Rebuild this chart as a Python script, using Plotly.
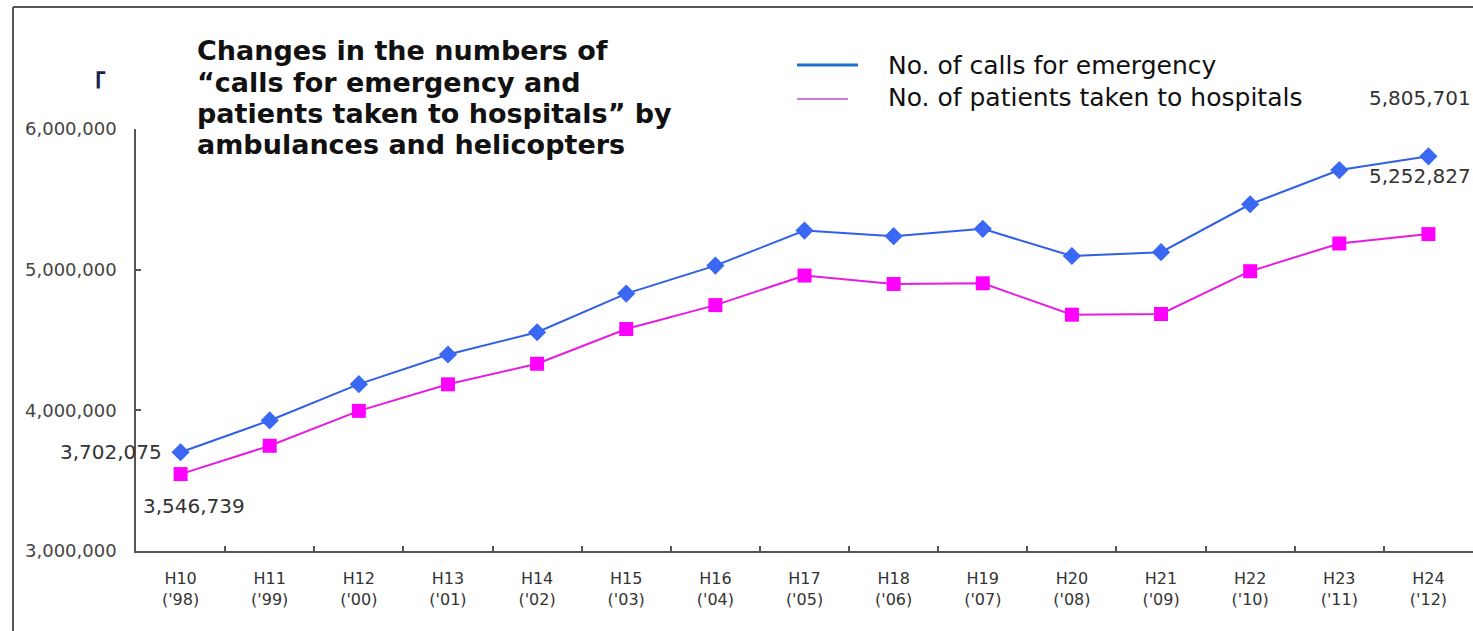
import plotly.graph_objects as go

# ---------------- data ----------------
categories = ["H10<br>('98)", "H11<br>('99)", "H12<br>('00)", "H13<br>('01)", "H14<br>('02)",
              "H15<br>('03)", "H16<br>('04)", "H17<br>('05)", "H18<br>('06)", "H19<br>('07)",
              "H20<br>('08)", "H21<br>('09)", "H22<br>('10)", "H23<br>('11)", "H24<br>('12)"]
calls = [3702075, 3928000, 4186000, 4397000, 4555000, 4830000, 5029000, 5278000,
         5238000, 5290000, 5097000, 5124000, 5465000, 5708000, 5805701]
patients = [3546739, 3748000, 3996000, 4185000, 4331000, 4578000, 4748000, 4958000,
            4898000, 4903000, 4680000, 4685000, 4989000, 5186000, 5252827]
y_ticks = [3000000, 4000000, 5000000, 6000000]
title_lines = ["Changes in the numbers of",
               "\u201ccalls for emergency and",
               "patients taken to hospitals\u201d by",
               "ambulances and helicopters"]
legend_names = ["No. of calls for emergency", "No. of patients taken to hospitals"]

# ---------------- geometry helpers ----------------
W, H = 1473, 631
L, R, T, B = 136, 0, 129, 80
PW, PH = W - L - R, H - T - B


def px(x):
    return (x - L) / PW


def py(y):
    return (H - B - y) / PH


BLUE_LINE = "#3060e6"
BLUE_MARK = "#3a68f2"
PINK_LINE = "#e81ce0"
PINK_MARK = "#ff00ff"
TXT = "#333333"

fig = go.Figure()
fig.add_trace(go.Scatter(
    x=categories, y=calls, mode="lines+markers", name=legend_names[0], showlegend=False,
    line=dict(color=BLUE_LINE, width=2),
    marker=dict(symbol="diamond", size=14, color=BLUE_MARK),
))
fig.add_trace(go.Scatter(
    x=categories, y=patients, mode="lines+markers", name=legend_names[1], showlegend=False,
    line=dict(color=PINK_LINE, width=2),
    marker=dict(symbol="square", size=14, color=PINK_MARK),
))

annotations = []
# title lines
title_y = [51, 82, 113, 144]
for t, yy in zip(title_lines, title_y):
    annotations.append(dict(
        xref="paper", yref="paper", x=px(195), y=py(yy), xanchor="left", yanchor="middle",
        text=t, showarrow=False,
        font=dict(family="DejaVu Sans", size=27, color="#111111", weight="bold"),
    ))
# legend text
for t, yy in zip(legend_names, [65, 98]):
    annotations.append(dict(
        xref="paper", yref="paper", x=px(886), y=py(yy), xanchor="left", yanchor="middle",
        text=t, showarrow=False,
        font=dict(family="DejaVu Sans", size=25, color="#111111"),
    ))
# small cropped bracket at top-left
annotations.append(dict(
    xref="paper", yref="paper", x=px(78), y=py(82), xanchor="left", yanchor="middle",
    text="\u300c", showarrow=False,
    font=dict(family="Noto Sans CJK JP", size=26, color="#1a2550", weight="bold"),
))
# data labels
lab_font = dict(family="DejaVu Sans", size=20, color=TXT)
annotations.append(dict(x=categories[0], y=calls[0], text=f"{calls[0]:,}", showarrow=False,
                        xanchor="right", yanchor="middle", xshift=-17, font=lab_font))
annotations.append(dict(x=categories[0], y=patients[0], text=f"{patients[0]:,}", showarrow=False,
                        xanchor="left", yanchor="middle", xshift=-40, yshift=-32, font=lab_font))
annotations.append(dict(x=categories[-1], y=calls[-1], text=f"{calls[-1]:,}", showarrow=False,
                        xanchor="left", yanchor="middle", xshift=-61, yshift=58, font=lab_font))
annotations.append(dict(x=categories[-1], y=patients[-1], text=f"{patients[-1]:,}", showarrow=False,
                        xanchor="left", yanchor="middle", xshift=-61, yshift=58, font=lab_font))

shapes = [
    # outer frame (left and top)
    dict(type="line", xref="paper", yref="paper", x0=px(13), x1=px(13), y0=py(7), y1=py(H + 5),
         line=dict(color="#555555", width=2)),
    dict(type="line", xref="paper", yref="paper", x0=px(13), x1=px(W + 5), y0=py(7), y1=py(7),
         line=dict(color="#555555", width=2)),
    # legend swatches
    dict(type="line", xref="paper", yref="paper", x0=px(797), x1=px(858), y0=py(65), y1=py(65),
         line=dict(color="#1f6fcc", width=3)),
    dict(type="line", xref="paper", yref="paper", x0=px(797), x1=px(848), y0=py(99), y1=py(99),
         line=dict(color="#c04cc0", width=1.5)),
]

fig.update_layout(
    width=W, height=H,
    margin=dict(l=L, r=R, t=T, b=B, pad=0),
    paper_bgcolor="white", plot_bgcolor="white",
    showlegend=False,
    annotations=annotations,
    shapes=shapes,
    xaxis=dict(
        type="category", categoryorder="array", categoryarray=categories,
        range=[-0.5, len(categories) - 0.5],
        showline=True, linecolor="#555555", linewidth=2,
        ticks="inside", ticklen=5, tickcolor="#555555", tickwidth=1.5,
        tickson="boundaries", showgrid=False, zeroline=False,
        tickfont=dict(family="DejaVu Sans", size=16, color=TXT),
        ticklabelstandoff=12,
    ),
    yaxis=dict(
        range=[3000000, 6000000], tickvals=y_ticks, tickformat=",",
        showline=True, linecolor="#555555", linewidth=1.5,
        ticks="inside", ticklen=5, tickcolor="#555555", tickwidth=1.5,
        showgrid=False, zeroline=False,
        tickfont=dict(family="DejaVu Sans", size=18, color="#444444"),
        ticklabelstandoff=14,
    ),
)

fig.write_html("out.html")
